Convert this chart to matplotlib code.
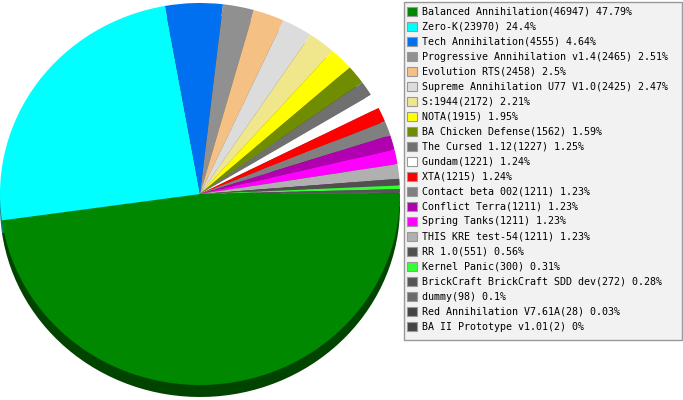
import matplotlib
matplotlib.use("Agg")
import matplotlib.pyplot as plt
from matplotlib.patches import Patch, Rectangle
from matplotlib.colors import to_rgb

# datos
names = [
    "Balanced Annihilation", "Zero-K", "Tech Annihilation",
    "Progressive Annihilation v1.4", "Evolution RTS",
    "Supreme Annihilation U77 V1.0", "S:1944", "NOTA",
    "BA Chicken Defense", "The Cursed 1.12", "Gundam", "XTA",
    "Contact beta 002", "Conflict Terra", "Spring Tanks",
    "THIS KRE test-54", "RR 1.0", "Kernel Panic",
    "BrickCraft BrickCraft SDD dev", "dummy", "Red Annihilation V7.61A",
    "BA II Prototype v1.01",
]
counts = [46947, 23970, 4555, 2465, 2458, 2425, 2172, 1915, 1562, 1227,
          1221, 1215, 1211, 1211, 1211, 1211, 551, 300, 272, 98, 28, 2]
pcts = ["47.79", "24.4", "4.64", "2.51", "2.5", "2.47", "2.21", "1.95",
        "1.59", "1.25", "1.24", "1.24", "1.23", "1.23", "1.23", "1.23",
        "0.56", "0.31", "0.28", "0.1", "0.03", "0"]
colors = [
    "#008800", "#00ffff", "#0070f0", "#909090", "#f4c084", "#dcdcdc",
    "#f0e68c", "#ffff00", "#708c00", "#707070", "#ffffff", "#ff0000",
    "#808080", "#b000b0", "#ff00ff", "#b0b0b0", "#505050", "#33ff33",
    "#555555", "#6a6a6a", "#444444", "#444444",
]

W, H = 683, 400
fig = plt.figure(figsize=(W / 100, H / 100), dpi=100)

# ejes del pastel: 0..400 px en x, toda la altura
ax = fig.add_axes([0, 0, 400 / W, 1])
ry = 191.0
cy = 194.0

# sombra (profundidad) debajo
dark = [tuple(v * 0.5 for v in to_rgb(c)) for c in colors]
ax.pie(counts, colors=dark, startangle=0, counterclock=False,
       center=(0, -12 / ry), radius=1, frame=True,
       wedgeprops=dict(linewidth=0))
# cara superior
ax.pie(counts, colors=colors, startangle=0, counterclock=False,
       center=(0, 0), radius=1, frame=True,
       wedgeprops=dict(linewidth=0))
ax.set_aspect("auto")
ax.set_xlim(-1, 1)
ax.set_ylim(-(H - cy) / ry, cy / ry)
ax.axis("off")

# caja de la leyenda
fig.patches.append(Rectangle((404 / W, 1 - 340 / H), 278 / W, 338 / H,
                             transform=fig.transFigure, facecolor="#f2f2f2",
                             edgecolor="#999999", linewidth=1, zorder=0))

# leyenda
handles = [Patch(facecolor=c, edgecolor="#999999", linewidth=0.8)
           for c in colors]
labels = [f"{n}({c}) {p}%" for n, c, p in zip(names, counts, pcts)]
leg = fig.legend(handles, labels, loc="upper left",
                 bbox_to_anchor=(402 / W, 1 - 2 / H),
                 borderaxespad=0, frameon=False,
                 prop=dict(family="DejaVu Sans Mono", size=7.2),
                 handlelength=1.0, handleheight=1.0, handletextpad=0.5,
                 labelspacing=0.5, borderpad=0.45)

fig.savefig("out.png", dpi=100)
